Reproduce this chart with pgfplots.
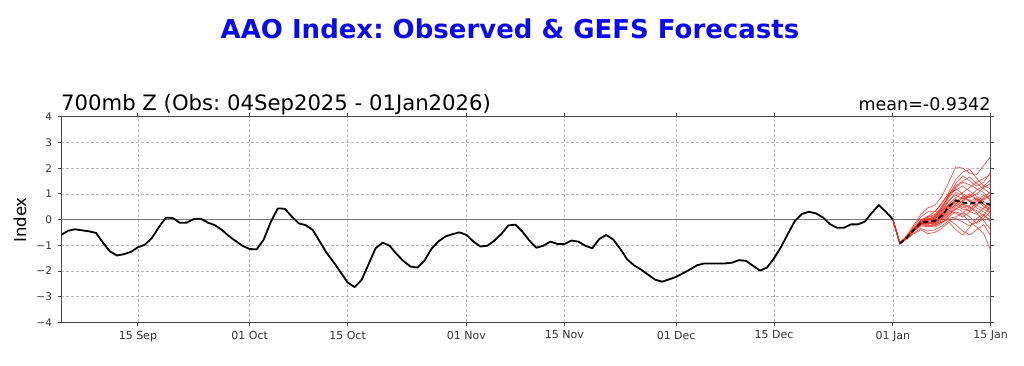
\documentclass[border=0pt]{standalone}
\usepackage{pgfplots}
\pgfplotsset{compat=1.18}
\usepackage{fontspec}
\setmainfont{DejaVu Sans}
\frenchspacing
\definecolor{titleblue}{RGB}{10,10,240}
\definecolor{ensred}{RGB}{235,45,35}
\definecolor{gridgray}{RGB}{185,185,185}
\definecolor{framegray}{RGB}{70,70,70}
\definecolor{zerogray}{RGB}{120,120,120}
\begin{document}
\begin{tikzpicture}[x=1pt,y=1pt]
\path[use as bounding box] (0,0) rectangle (1024,365);
\begin{axis}[
  at={(61pt,42.7pt)}, anchor=south west,
  scale only axis, width=929.7pt, height=205.6pt,
  xmin=0, xmax=133, ymin=-4, ymax=4,
  xtick={11,27,41,58,72,88,102,119,133},
  xticklabels={15 Sep,01 Oct,15 Oct,01 Nov,15 Nov,01 Dec,15 Dec,01 Jan,15 Jan},
  ytick={-4,-3,-2,-1,0,1,2,3,4},
  yticklabels={−4,−3,−2,−1,0,1,2,3,4},
  tick align=outside, major tick length=3.5pt,
  tick style={framegray, line width=0.8pt},
  axis line style={framegray, line width=1pt},
  grid=major,
  major grid style={gridgray, dash pattern=on 3pt off 2pt, line width=0.6pt},
  xticklabel style={font=\fontsize{11}{13}\selectfont, color=black!80, yshift=-1.5pt},
  yticklabel style={font=\fontsize{10.5}{12}\selectfont, color=black!80, xshift=-2pt},
  clip=true,
]
\addplot[zerogray, line width=1pt, forget plot] coordinates {(0,0) (133,0)};
% ensemble members
\pgfplotsset{ens/.style={ensred, line width=0.7pt, opacity=0.8}}
\addplot[ens] table[row sep=\\, header=false, x expr=\coordindex+119, y index=0] {0.01\\ -0.93\\ -0.62\\ -0.22\\ 0.20\\ 0.45\\ 0.55\\ 0.90\\ 1.45\\ 2.05\\ 2.00\\ 1.80\\ 1.75\\ 2.10\\ 2.45\\};
\addplot[ens] table[row sep=\\, header=false, x expr=\coordindex+119, y index=0] {0.01\\ -0.92\\ -0.70\\ -0.42\\ -0.20\\ -0.25\\ -0.30\\ -0.15\\ 0.10\\ 0.30\\ 0.20\\ -0.10\\ -0.30\\ -0.55\\ -1.20\\};
\addplot[ens] table[row sep=\\, header=false, x expr=\coordindex+119, y index=0] {0.01\\ -0.94\\ -0.72\\ -0.45\\ -0.15\\ 0.00\\ 0.10\\ 0.45\\ 0.95\\ 1.30\\ 1.50\\ 1.65\\ 1.40\\ 1.20\\ 1.00\\};
\addplot[ens] table[row sep=\\, header=false, x expr=\coordindex+119, y index=0] {0.01\\ -0.93\\ -0.69\\ -0.38\\ -0.10\\ -0.12\\ -0.05\\ 0.20\\ 0.40\\ 0.55\\ 0.40\\ 0.35\\ 0.70\\ 0.95\\ 0.80\\};
\addplot[ens] table[row sep=\\, header=false, x expr=\coordindex+119, y index=0] {0.01\\ -0.95\\ -0.76\\ -0.55\\ -0.40\\ -0.55\\ -0.50\\ -0.35\\ -0.10\\ -0.40\\ -0.60\\ -0.30\\ 0.05\\ 0.20\\ -0.10\\};
\addplot[ens] table[row sep=\\, header=false, x expr=\coordindex+119, y index=0] {0.01\\ -0.92\\ -0.64\\ -0.28\\ 0.10\\ 0.30\\ 0.30\\ 0.60\\ 1.05\\ 1.55\\ 1.85\\ 1.95\\ 1.60\\ 1.30\\ 1.55\\};
\addplot[ens] table[row sep=\\, header=false, x expr=\coordindex+119, y index=0] {0.01\\ -0.93\\ -0.71\\ -0.43\\ -0.18\\ -0.10\\ -0.15\\ 0.05\\ 0.30\\ 0.60\\ 0.85\\ 0.70\\ 0.45\\ 0.30\\ 0.10\\};
\addplot[ens] table[row sep=\\, header=false, x expr=\coordindex+119, y index=0] {0.01\\ -0.94\\ -0.70\\ -0.40\\ -0.12\\ -0.05\\ 0.05\\ 0.35\\ 0.75\\ 0.95\\ 0.80\\ 0.90\\ 1.15\\ 1.30\\ 1.20\\};
\addplot[ens] table[row sep=\\, header=false, x expr=\coordindex+119, y index=0] {0.01\\ -0.93\\ -0.68\\ -0.36\\ -0.08\\ 0.05\\ -0.05\\ 0.10\\ 0.45\\ 0.70\\ 0.55\\ 0.30\\ 0.20\\ 0.45\\ 0.70\\};
\addplot[ens] table[row sep=\\, header=false, x expr=\coordindex+119, y index=0] {0.01\\ -0.91\\ -0.72\\ -0.44\\ -0.22\\ -0.20\\ -0.10\\ 0.10\\ 0.35\\ 0.25\\ 0.10\\ 0.30\\ 0.55\\ 0.40\\ 0.25\\};
\addplot[ens] table[row sep=\\, header=false, x expr=\coordindex+119, y index=0] {0.01\\ -0.93\\ -0.67\\ -0.37\\ -0.02\\ 0.12\\ 0.30\\ 0.65\\ 1.00\\ 1.15\\ 1.30\\ 1.10\\ 0.90\\ 0.75\\ 0.95\\};
\addplot[ens] table[row sep=\\, header=false, x expr=\coordindex+119, y index=0] {0.01\\ -0.94\\ -0.73\\ -0.46\\ -0.25\\ -0.28\\ -0.20\\ -0.05\\ 0.15\\ 0.45\\ 0.30\\ 0.10\\ -0.15\\ 0.05\\ 0.30\\};
\addplot[ens] table[row sep=\\, header=false, x expr=\coordindex+119, y index=0] {0.01\\ -0.92\\ -0.69\\ -0.39\\ -0.10\\ 0.00\\ 0.00\\ 0.25\\ 0.60\\ 0.85\\ 1.05\\ 1.25\\ 1.45\\ 1.60\\ 1.75\\};
\addplot[ens] table[row sep=\\, header=false, x expr=\coordindex+119, y index=0] {0.01\\ -0.93\\ -0.70\\ -0.41\\ -0.14\\ -0.12\\ -0.18\\ 0.00\\ 0.20\\ 0.40\\ 0.60\\ 0.50\\ 0.25\\ -0.05\\ -0.40\\};
\addplot[ens] table[row sep=\\, header=false, x expr=\coordindex+119, y index=0] {0.01\\ -0.95\\ -0.71\\ -0.42\\ -0.13\\ -0.08\\ 0.02\\ 0.30\\ 0.70\\ 1.05\\ 0.95\\ 0.70\\ 0.85\\ 0.60\\ 0.40\\};
\addplot[ens] table[row sep=\\, header=false, x expr=\coordindex+119, y index=0] {0.01\\ -0.93\\ -0.68\\ -0.37\\ -0.06\\ 0.08\\ 0.15\\ 0.40\\ 0.85\\ 1.20\\ 1.00\\ 0.85\\ 1.00\\ 1.25\\ 1.40\\};
\addplot[ens] table[row sep=\\, header=false, x expr=\coordindex+119, y index=0] {0.01\\ -0.92\\ -0.71\\ -0.43\\ -0.20\\ -0.22\\ -0.25\\ -0.10\\ 0.05\\ 0.10\\ 0.25\\ 0.45\\ 0.35\\ 0.15\\ 0.55\\};
\addplot[ens] table[row sep=\\, header=false, x expr=\coordindex+119, y index=0] {0.01\\ -0.94\\ -0.69\\ -0.38\\ -0.09\\ -0.02\\ 0.08\\ 0.35\\ 0.55\\ 0.75\\ 0.70\\ 0.95\\ 0.80\\ 0.60\\ 0.25\\};
\addplot[ens] table[row sep=\\, header=false, x expr=\coordindex+119, y index=0] {0.01\\ -0.93\\ -0.70\\ -0.40\\ -0.16\\ -0.15\\ -0.10\\ 0.10\\ 0.50\\ 0.80\\ 0.60\\ 0.45\\ 0.60\\ 0.85\\ 1.10\\};
\addplot[ens] table[row sep=\\, header=false, x expr=\coordindex+119, y index=0] {0.01\\ -0.93\\ -0.67\\ -0.34\\ -0.03\\ 0.10\\ 0.20\\ 0.50\\ 0.90\\ 1.25\\ 1.45\\ 1.35\\ 1.20\\ 1.05\\ 0.70\\};
\addplot[ens] table[row sep=\\, header=false, x expr=\coordindex+119, y index=0] {0.01\\ -0.94\\ -0.75\\ -0.52\\ -0.35\\ -0.45\\ -0.40\\ -0.25\\ -0.05\\ 0.05\\ -0.10\\ -0.25\\ -0.10\\ 0.15\\ 0.00\\};
\addplot[ens] table[row sep=\\, header=false, x expr=\coordindex+119, y index=0] {0.01\\ -0.92\\ -0.68\\ -0.36\\ -0.07\\ -0.02\\ 0.05\\ 0.20\\ 0.55\\ 0.70\\ 0.90\\ 0.75\\ 0.55\\ 0.80\\ 0.95\\};
\addplot[ens] table[row sep=\\, header=false, x expr=\coordindex+119, y index=0] {0.01\\ -0.93\\ -0.70\\ -0.41\\ -0.12\\ -0.10\\ -0.08\\ 0.15\\ 0.40\\ 0.65\\ 0.45\\ 0.55\\ 0.80\\ 0.70\\ 0.50\\};
\addplot[ens] table[row sep=\\, header=false, x expr=\coordindex+119, y index=0] {0.01\\ -0.93\\ -0.72\\ -0.44\\ -0.17\\ -0.18\\ -0.12\\ 0.05\\ 0.25\\ 0.50\\ 0.75\\ 1.00\\ 0.75\\ 0.50\\ 0.35\\};
\addplot[ens] table[row sep=\\, header=false, x expr=\coordindex+119, y index=0] {0.01\\ -0.94\\ -0.69\\ -0.39\\ -0.11\\ 0.02\\ 0.12\\ 0.45\\ 0.95\\ 1.40\\ 1.70\\ 1.50\\ 1.30\\ 1.45\\ 1.85\\};
\addplot[ens] table[row sep=\\, header=false, x expr=\coordindex+119, y index=0] {0.01\\ -0.92\\ -0.71\\ -0.42\\ -0.15\\ -0.14\\ -0.22\\ -0.10\\ 0.00\\ -0.20\\ -0.45\\ -0.60\\ -0.40\\ -0.20\\ -0.65\\};
% ensemble mean
\addplot[black, line width=1.8pt, dash pattern=on 5pt off 3pt] table[row sep=\\, header=false, x expr=\coordindex+120, y index=0] {-0.93\\ -0.70\\ -0.40\\ -0.13\\ -0.08\\ -0.06\\ 0.15\\ 0.50\\ 0.74\\ 0.66\\ 0.63\\ 0.66\\ 0.66\\ 0.57\\};
% observed
\addplot[black, line width=1.8pt, line join=round] table[row sep=\\, header=false, x expr=\coordindex, y index=0] {
-0.60\\ -0.44\\ -0.38\\ -0.42\\ -0.46\\ -0.52\\ -0.90\\ -1.24\\ -1.40\\ -1.35\\
-1.26\\ -1.08\\ -0.98\\ -0.72\\ -0.30\\ 0.07\\ 0.06\\ -0.13\\ -0.12\\ 0.02\\
0.03\\ -0.12\\ -0.22\\ -0.40\\ -0.64\\ -0.84\\ -1.03\\ -1.15\\ -1.16\\ -0.78\\
-0.10\\ 0.43\\ 0.42\\ 0.12\\ -0.15\\ -0.22\\ -0.40\\ -0.85\\ -1.30\\ -1.66\\
-2.05\\ -2.45\\ -2.63\\ -2.35\\ -1.74\\ -1.12\\ -0.90\\ -1.02\\ -1.34\\ -1.62\\
-1.83\\ -1.87\\ -1.60\\ -1.14\\ -0.85\\ -0.66\\ -0.57\\ -0.50\\ -0.60\\ -0.86\\
-1.05\\ -1.02\\ -0.82\\ -0.56\\ -0.23\\ -0.20\\ -0.47\\ -0.82\\ -1.10\\ -1.02\\
-0.86\\ -0.95\\ -0.96\\ -0.82\\ -0.86\\ -1.02\\ -1.12\\ -0.76\\ -0.60\\ -0.78\\
-1.14\\ -1.55\\ -1.79\\ -1.95\\ -2.15\\ -2.34\\ -2.42\\ -2.33\\ -2.23\\ -2.09\\
-1.94\\ -1.78\\ -1.71\\ -1.71\\ -1.71\\ -1.71\\ -1.68\\ -1.58\\ -1.61\\ -1.80\\
-1.99\\ -1.87\\ -1.51\\ -1.07\\ -0.55\\ -0.05\\ 0.22\\ 0.30\\ 0.24\\ 0.08\\
-0.18\\ -0.32\\ -0.32\\ -0.19\\ -0.19\\ -0.08\\ 0.26\\ 0.56\\ 0.30\\ 0.01\\
};
\end{axis}
\node[anchor=base, text=titleblue, font=\fontsize{26}{30}\selectfont\bfseries] at (510,326.7) {AAO Index: Observed \& GEFS Forecasts};
\node[anchor=base west, inner sep=0pt, font=\fontsize{21.2}{25}\selectfont] at (61,255) {700mb Z (Obs: 04Sep2025 - 01Jan2026)};
\node[anchor=base east, inner sep=0pt, font=\fontsize{17.5}{21}\selectfont] at (990.7,255) {mean=-0.9342};
\node[anchor=base, rotate=90, inner sep=0pt, font=\fontsize{16.5}{19}\selectfont] at (26,145) {Index};
\end{tikzpicture}
\end{document}
